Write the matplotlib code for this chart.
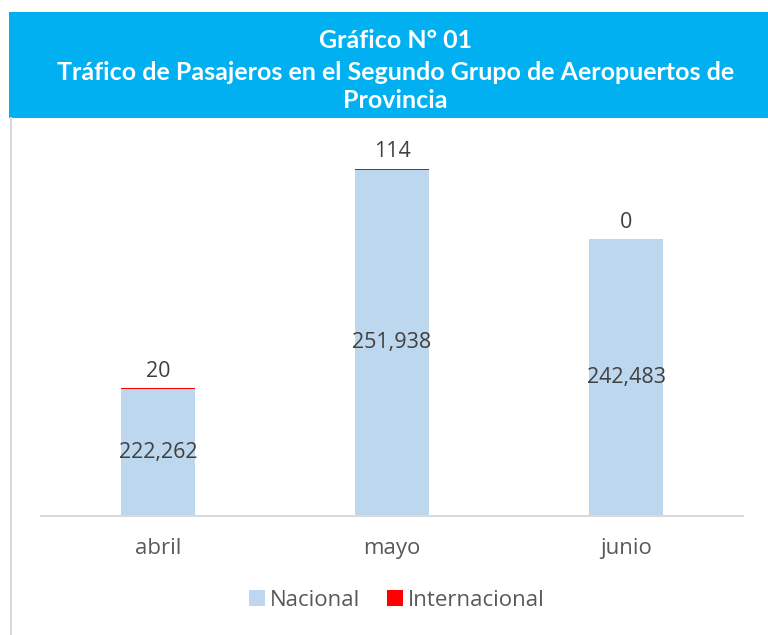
import matplotlib.pyplot as plt
from matplotlib.patches import Rectangle
from matplotlib.lines import Line2D
import numpy as np

# datos
meses = ['abril', 'mayo', 'junio']
nacional = [222262, 251938, 242483]
internacional = [20, 114, 0]

fig = plt.figure(figsize=(7.68, 6.35), dpi=100)
fig.patch.set_facecolor('white')

# caja del titulo
fig.patches.append(Rectangle((9 / 768, 1 - 118 / 635), 1 - 9 / 768, 106 / 635,
                             transform=fig.transFigure, facecolor='#00B0F0',
                             edgecolor='none', zorder=0))
fig.lines.append(Line2D([10.5 / 768, 10.5 / 768], [0, 1 - 118 / 635],
                        transform=fig.transFigure, color='#D9D9D9', linewidth=1.5))

fig.text(0.515, 1 - 40 / 635, 'Gráfico N° 01', ha='center', va='center',
         color='white', fontsize=18, fontweight='bold', family='Lato')
fig.text(0.515, 1 - 72 / 635, 'Tráfico de Pasajeros en el Segundo Grupo de Aeropuertos de',
         ha='center', va='center', color='white', fontsize=18, fontweight='bold', family='Lato')
fig.text(0.515, 1 - 101 / 635, 'Provincia', ha='center', va='center',
         color='white', fontsize=18, fontweight='bold', family='Lato')

ax = fig.add_axes([41 / 768, 119 / 635, 702 / 768, 386 / 635])
x = np.arange(len(meses))
ancho = 0.316

ymin, ymax = 205000, 257300
b1 = ax.bar(x, np.array(nacional) - ymin, bottom=ymin, width=ancho,
            color='#BDD7EE', label='Nacional')
b2 = ax.bar(x, internacional, bottom=nacional, width=ancho,
            color='#FF0000', label='Internacional')

for i in range(len(meses)):
    ax.text(x[i], (ymin + nacional[i]) / 2, f'{nacional[i]:,}', ha='center', va='center',
            fontsize=15.5, color='#404040', family='Open Sans')
    ax.text(x[i], nacional[i] + internacional[i] + 900, f'{internacional[i]:,}',
            ha='center', va='bottom', fontsize=15.5, color='#404040', family='Open Sans')

ax.set_xlim(-0.5, 2.5)
ax.set_ylim(ymin, ymax)
ax.set_xticks(x)
ax.set_xticklabels(meses, fontsize=16, color='#595959', family='Open Sans')
ax.tick_params(axis='x', length=0, pad=16)
ax.set_yticks([])
for s in ['top', 'right', 'left']:
    ax.spines[s].set_visible(False)
ax.spines['bottom'].set_color('#D9D9D9')
ax.spines['bottom'].set_linewidth(1.5)

leg = fig.legend(handles=[b1, b2], loc='center', bbox_to_anchor=(397 / 768, 1 - 600 / 635),
                 ncol=2, frameon=False, handlelength=0.7, handleheight=0.7,
                 handletextpad=0.25, columnspacing=1.2,
                 prop={'family': 'Open Sans', 'size': 16})
for t in leg.get_texts():
    t.set_color('#595959')

fig.savefig('out.png', dpi=100)
